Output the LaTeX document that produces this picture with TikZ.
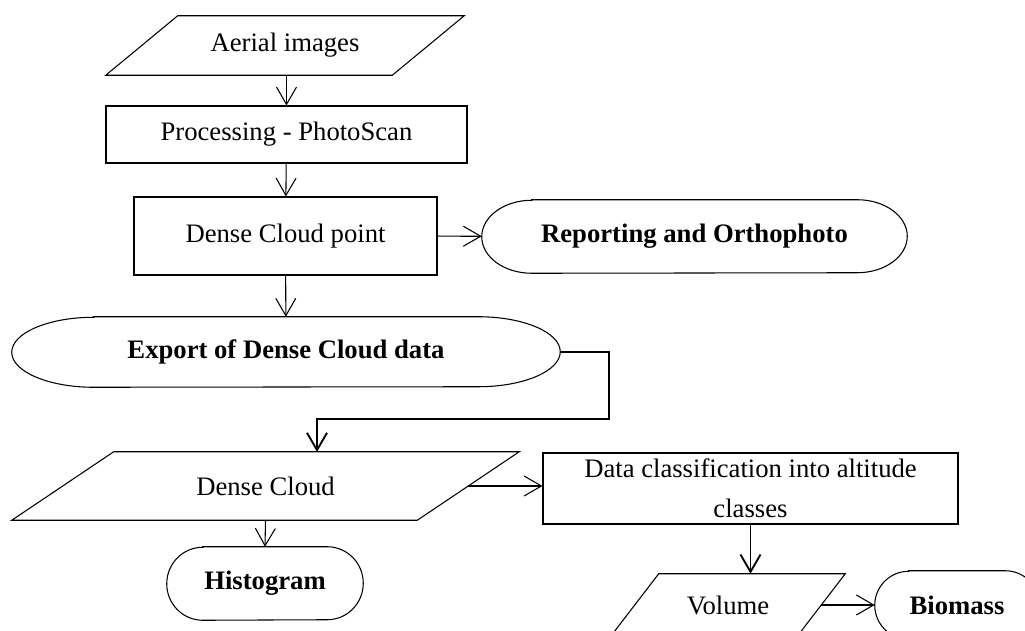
\documentclass[tikz,border=0pt]{standalone}
\usepackage{fontspec}
\setmainfont{Liberation Serif}
\usetikzlibrary{arrows.meta,calc}
\newcommand{\termbox}[3]{\draw[flowline] ($(#1.north west)+(#2,0)$) -- ($(#1.north east)+(-#2,0)$) arc[start angle=90,end angle=-90,x radius=#2,y radius=#3] -- ($(#1.south west)+(#2,0)$) arc[start angle=270,end angle=90,x radius=#2,y radius=#3] -- cycle;}
\newcommand{\slantbox}[2]{\draw[flowline] (#1.south west) -- ($(#1.north west)+(#2,0)$) -- (#1.north east) -- ($(#1.south east)+(-#2,0)$) -- cycle;}
\tikzset{
  flowline/.style={line width=0.8pt},
  flowarrow/.style={flowline, -{Straight Barb[length=13pt,width=15pt]}},
  thickarrow/.style={flowarrow, line width=1.4pt},
  txt/.style={font=\fontsize{20}{30}\selectfont},
  procbox/.style={txt, draw, flowline, rectangle, inner sep=0pt},
  iobox/.style={txt, rectangle, inner sep=0pt},
  termnode/.style={txt, font=\fontsize{20}{30}\selectfont\bfseries, rectangle, inner sep=0pt}
}

\begin{document}
\begin{tikzpicture}[x=0.75pt, y=0.75pt]
\useasboundingbox (0,0) rectangle (1025,-631);
\clip (0,0) rectangle (1025,-631);
\node[iobox, minimum width=268.5pt, minimum height=44.25pt] (aerial) at (285,-45.5) {Aerial images};
\slantbox{aerial}{72}
\node[procbox, minimum width=270.75pt, minimum height=42.75pt] (proc) at (286.5,-134.5) {Processing - PhotoScan};
\node[procbox, minimum width=227.25pt, minimum height=58.5pt] (dcp) at (285.5,-236) {Dense Cloud point};
\node[termnode, minimum width=318.75pt, minimum height=54.75pt] (report) at (694.5,-236.5) {Reporting and Orthophoto};
\termbox{report}{50}{36.5}
\node[termnode, minimum width=411pt, minimum height=52.5pt] (export) at (286,-352) {Export of Dense Cloud data};
\termbox{export}{82}{35}
\node[iobox, minimum width=380.25pt, minimum height=51pt] (dc) at (265.5,-486) {Dense Cloud};
\slantbox{dc}{102}
\node[termnode, minimum width=147pt, minimum height=54.75pt] (hist) at (265,-583.5) {Histogram};
\termbox{hist}{36}{36.5}
\node[procbox, minimum width=311.25pt, minimum height=53.25pt, align=center] (classes) at (750.5,-488.5) {Data classification into altitude\\classes};
\node[iobox, minimum width=175.5pt, minimum height=46.5pt] (volume) at (728,-605) {Volume};
\slantbox{volume}{48}
\node[termnode, minimum width=123pt, minimum height=51pt] (biomass) at (957,-605) {Biomass};
\termbox{biomass}{34}{34}
\coordinate (bend) at (609,-419);
\coordinate (dcin) at (317,-452);
\coordinate (dcout) at ($(dc.east)+(-51,0)$);
\coordinate (volout) at ($(volume.east)+(-24,0)$);
\draw[flowarrow] (aerial.south -| proc.north) -- (proc.north);
\draw[flowarrow] (proc) -- (dcp);
\draw[flowarrow] (dcp) -- (report);
\draw[flowarrow] (dcp) -- (export);
\draw[thickarrow] (export.east) -| (bend) -| (dcin);
\draw[flowarrow] (dc.south) -- (hist.north);
\draw[flowarrow] (dcout) -- (dcout -| classes.west);
\draw[thickarrow] (classes.south) -- (classes.south |- volume.north);
\draw[flowarrow] (volout) -- (biomass.west);
\end{tikzpicture}
\end{document}
